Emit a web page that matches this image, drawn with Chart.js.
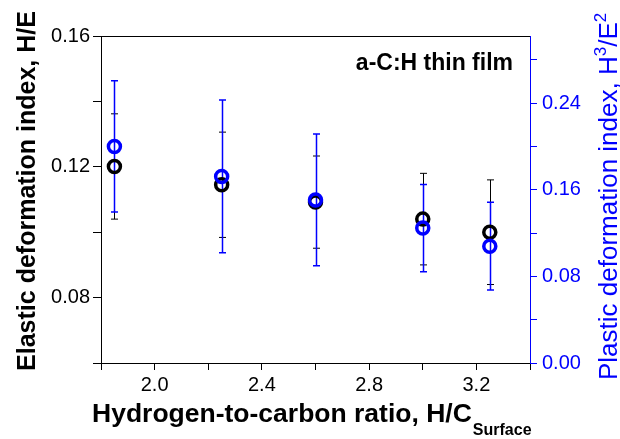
<!DOCTYPE html>
<html>
<head>
<meta charset="utf-8">
<script src="https://cdn.jsdelivr.net/npm/chart.js@4"></script>
<style>
  body { margin: 0; background: #fff; }
  #wrap { width: 620px; height: 439px; }
</style>
</head>
<body>
<div id="wrap"><canvas id="hcChart"></canvas></div>
<script>
// H/C surface ratio of the a-C:H films
const ratioHC = [1.85, 2.25, 2.6, 3.0, 3.25];
// H/E (left axis) and its error
const elasticHE = [0.1201, 0.1145, 0.1092, 0.1040, 0.1000];
const elasticErr = [0.0161, 0.0161, 0.0141, 0.0140, 0.0160];
// H^3/E^2 (right axis) and its error
const plasticH3E2 = [0.2000, 0.1723, 0.1506, 0.1246, 0.1079];
const plasticErr = [0.0606, 0.0705, 0.0608, 0.0403, 0.0405];

const FONT = "'Liberation Sans', Arial, Helvetica, sans-serif";
const BLUE = '#0000ff';

function toPoints(xs, ys) {
    return xs.map((x, i) => ({ x: x, y: ys[i] }));
}

// error bars, drawn under the circles
const errorBars = {
    id: 'errorBars',
    beforeDatasetsDraw(chart) {
        const ctx = chart.ctx;
        const xs = chart.scales.x;
        const sets = [
            { axis: 'y', vals: elasticHE, err: elasticErr, color: '#000', width: 1 },
            { axis: 'y2', vals: plasticH3E2, err: plasticErr, color: BLUE, width: 1.5 }
        ];
        ctx.save();
        sets.forEach(s => {
            const ys = chart.scales[s.axis];
            ctx.strokeStyle = s.color;
            ctx.lineWidth = s.width;
            ratioHC.forEach((xv, i) => {
                const px = Math.round(xs.getPixelForValue(xv)) + 0.5;
                const top = ys.getPixelForValue(s.vals[i] + s.err[i]);
                const bot = ys.getPixelForValue(s.vals[i] - s.err[i]);
                ctx.beginPath();
                ctx.moveTo(px, top);
                ctx.lineTo(px, bot);
                ctx.moveTo(px - 3.5, top);
                ctx.lineTo(px + 3.5, top);
                ctx.moveTo(px - 3.5, bot);
                ctx.lineTo(px + 3.5, bot);
                ctx.stroke();
            });
        });
        ctx.restore();
    }
};

// axis titles (with sub/superscripts), frame top and the annotation
const labelsPlugin = {
    id: 'labelsPlugin',
    afterDraw(chart) {
        const ctx = chart.ctx;
        const a = chart.chartArea;
        ctx.save();

        // top frame line
        ctx.strokeStyle = '#000';
        ctx.lineWidth = 1;
        ctx.beginPath();
        ctx.moveTo(a.left, a.top + 0.5);
        ctx.lineTo(a.right, a.top + 0.5);
        ctx.stroke();

        // annotation
        ctx.fillStyle = '#000';
        ctx.font = 'bold 23px ' + FONT;
        ctx.textAlign = 'right';
        ctx.textBaseline = 'alphabetic';
        ctx.fillText('a-C:H thin film', 513, 70);

        // bottom title
        ctx.textAlign = 'left';
        ctx.font = 'bold 26.5px ' + FONT;
        const main = 'Hydrogen-to-carbon ratio, H/C';
        ctx.fillText(main, 92, 422);
        const w = ctx.measureText(main).width;
        ctx.font = 'bold 16px ' + FONT;
        ctx.fillText('Surface', 93 + w, 435);

        // left title
        ctx.save();
        ctx.translate(35, 191);
        ctx.rotate(-Math.PI / 2);
        ctx.textAlign = 'center';
        ctx.font = 'bold 25px ' + FONT;
        ctx.fillText('Elastic deformation index, H/E', 0, 0);
        ctx.restore();

        // right title
        ctx.save();
        ctx.translate(617, 380);
        ctx.rotate(-Math.PI / 2);
        ctx.textAlign = 'left';
        ctx.fillStyle = BLUE;
        const parts = [
            ['Plastic deformation index, H', 26, 0],
            ['3', 17, -11],
            ['/E', 26, 0],
            ['2', 17, -11]
        ];
        let pos = 0;
        parts.forEach(p => {
            ctx.font = p[1] + 'px ' + FONT;
            ctx.fillText(p[0], pos, p[2]);
            pos += ctx.measureText(p[0]).width;
        });
        ctx.restore();

        ctx.restore();
    }
};

const tickFont = { family: FONT, size: 20 };

new Chart(document.getElementById('hcChart').getContext('2d'), {
    type: 'scatter',
    data: {
        datasets: [{
            label: 'H^3/E^2',
            data: toPoints(ratioHC, plasticH3E2),
            yAxisID: 'y2',
            order: 0,
            borderColor: BLUE,
            backgroundColor: 'rgba(0,0,0,0)',
            pointBorderWidth: 3.5,
            pointRadius: 6
        }, {
            label: 'H/E',
            data: toPoints(ratioHC, elasticHE),
            yAxisID: 'y',
            order: 1,
            borderColor: '#000',
            backgroundColor: 'rgba(0,0,0,0)',
            pointBorderWidth: 3.5,
            pointRadius: 6
        }]
    },
    options: {
        responsive: true,
        maintainAspectRatio: false,
        animation: false,
        events: [],
        layout: { padding: { top: 36, left: 0, right: 0, bottom: 0 } },
        plugins: {
            legend: { display: false },
            tooltip: { enabled: false }
        },
        scales: {
            x: {
                type: 'linear',
                position: 'bottom',
                min: 1.8,
                max: 3.4,
                afterFit: s => { s.height = 76; },
                border: { color: '#000', width: 1 },
                grid: { drawOnChartArea: false, tickLength: 7, tickColor: '#000' },
                ticks: {
                    stepSize: 0.2,
                    color: '#000',
                    font: tickFont,
                    padding: 3,
                    maxRotation: 0,
                    autoSkip: false,
                    callback: v => (Math.round(v * 10) % 4 === 0 ? v.toFixed(1) : '')
                }
            },
            y: {
                type: 'linear',
                position: 'left',
                min: 0.06,
                max: 0.16,
                afterFit: s => { s.width = 101; },
                border: { color: '#000', width: 1 },
                grid: { drawOnChartArea: false, tickLength: 8, tickColor: '#000' },
                ticks: {
                    stepSize: 0.02,
                    color: '#000',
                    font: tickFont,
                    padding: 3,
                    autoSkip: false,
                    callback: v => (Math.round(v * 100) % 4 === 0 ? v.toFixed(2) : '')
                }
            },
            y2: {
                type: 'linear',
                position: 'right',
                min: 0,
                max: 0.302,
                afterFit: s => { s.width = 90; },
                border: { color: BLUE, width: 1 },
                grid: { drawOnChartArea: false, tickLength: 7, tickColor: BLUE },
                ticks: {
                    stepSize: 0.04,
                    includeBounds: false,
                    color: BLUE,
                    font: tickFont,
                    padding: 5,
                    autoSkip: false,
                    callback: v => (Math.round(v * 100) % 8 === 0 ? v.toFixed(2) : '')
                }
            }
        }
    },
    plugins: [errorBars, labelsPlugin]
});
</script>
</body>
</html>
